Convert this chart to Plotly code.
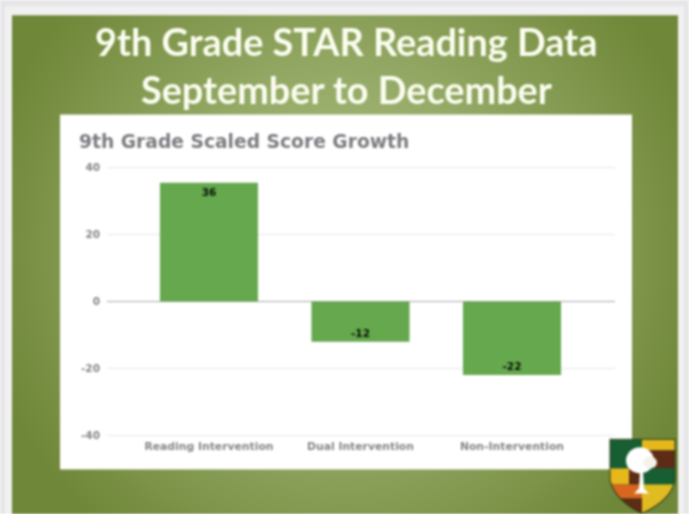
import base64
import plotly.graph_objects as go

categories = ["Reading Intervention", "Dual Intervention", "Non-Intervention"]
growth = [35.5, -12, -22]
y_ticks = [-40, -20, 0, 20, 40]
y_tick_labels = ["-40", "-20", "0", "20", "40"]

W, H = 689, 514
L, R, T, B = 107, 615, 166.33, 436.67


def px(x):
    return (x - L) / (R - L)


def py(y):
    return (B - y) / (B - T)


def uri(svg):
    return "data:image/svg+xml;base64," + base64.b64encode(svg.encode()).decode()


backdrop = f"""<svg xmlns="http://www.w3.org/2000/svg" width="{W}" height="{H}" viewBox="0 0 {W} {H}">
<defs><radialGradient id="g" gradientUnits="userSpaceOnUse" cx="345" cy="250" r="370">
<stop offset="0" stop-color="#b3c488"/><stop offset="0.45" stop-color="#96ab68"/><stop offset="1" stop-color="#6f8738"/>
</radialGradient></defs>
<rect x="0" y="0" width="{W}" height="{H}" fill="#e6e6e8"/>
<rect x="5" y="7" width="679" height="507" fill="#f1f1f2"/>
<rect x="12" y="16" width="666" height="498" fill="url(#g)"/>
<rect x="60" y="115" width="572" height="354" fill="#ffffff"/>
</svg>"""

crest = """<svg xmlns="http://www.w3.org/2000/svg" width="68" height="76" viewBox="0 0 68 76">
<defs><clipPath id="c"><path d="M1 1H66V42Q62 62 33 75Q6 62 1 42Z"/></clipPath></defs>
<g clip-path="url(#c)">
<rect width="68" height="76" fill="#175f33"/>
<rect x="33" y="0" width="35" height="12" fill="#e6b81c"/>
<rect x="33" y="12" width="35" height="18" fill="#5e2b14"/>
<rect x="33" y="30" width="35" height="16" fill="#175f33"/>
<rect x="0" y="30" width="20" height="16" fill="#e6b81c"/>
<rect x="20" y="30" width="14" height="16" fill="#5e2b14"/>
<rect x="33" y="46" width="35" height="30" fill="#e0bb22"/>
<rect x="0" y="46" width="33" height="14" fill="#d9661e"/>
<rect x="0" y="60" width="33" height="16" fill="#5e2b14"/>
</g>
<path d="M1 1H66V42Q62 62 33 75Q6 62 1 42Z" fill="none" stroke="#2c3a18" stroke-width="1"/>
<ellipse cx="31" cy="22" rx="14" ry="13" fill="#ffffff"/>
<ellipse cx="41" cy="24" rx="7" ry="6" fill="#f3f3ea"/>
<path d="M31 32H34L35 50L40 55H25L30 50Z" fill="#ffffff"/>
</svg>"""

fig = go.Figure(
    go.Bar(
        x=categories,
        y=growth,
        width=0.647,
        marker=dict(color="#65a84d", line=dict(width=0)),
        texttemplate="%{y:.0f}",
        textposition="inside",
        insidetextanchor="end",
        textangle=0,
        textfont=dict(family="DejaVu Sans", size=10.5, color="#061004", weight="bold"),
        hoverinfo="skip",
    )
)

fig.update_layout(
    width=W,
    height=H,
    autosize=False,
    margin=dict(l=L, r=W - R, t=T, b=H - B, pad=0),
    paper_bgcolor="#e6e6e8",
    plot_bgcolor="rgba(0,0,0,0)",
    showlegend=False,
    font=dict(family="DejaVu Sans", color="#8a8a8a"),
    xaxis=dict(
        range=[-0.673, 2.68],
        showgrid=False,
        showline=False,
        zeroline=False,
        ticks="",
        tickfont=dict(family="DejaVu Sans", size=10.8, color="#85858a", weight="bold"),
        ticklabelstandoff=1,
        automargin=False,
    ),
    yaxis=dict(
        range=[-40.5, 40.5],
        tickvals=y_ticks,
        ticktext=y_tick_labels,
        showgrid=True,
        gridcolor="#e8e8e8",
        gridwidth=1,
        zeroline=True,
        zerolinecolor="#a8a8a8",
        zerolinewidth=1,
        ticks="",
        tickfont=dict(family="DejaVu Sans", size=10.5, color="#85858a", weight="bold"),
        ticklabelstandoff=6,
        automargin=False,
    ),
    images=[
        dict(source=uri(backdrop), xref="paper", yref="paper", x=px(0), y=py(0),
             sizex=W / (R - L), sizey=H / (B - T), xanchor="left", yanchor="top",
             sizing="stretch", layer="below"),
        dict(source=uri(crest), xref="paper", yref="paper", x=px(609), y=py(438),
             sizex=68 / (R - L), sizey=76 / (B - T), xanchor="left", yanchor="top",
             sizing="stretch", layer="above"),
    ],
    annotations=[
        dict(text="9th Grade STAR Reading Data", xref="paper", yref="paper", x=px(346), y=py(42),
             xanchor="center", yanchor="middle", showarrow=False,
             font=dict(family="Lato", size=37.8, color="#fbfdf0", weight="bold")),
        dict(text="September to December", xref="paper", yref="paper", x=px(346), y=py(90),
             xanchor="center", yanchor="middle", showarrow=False,
             font=dict(family="Lato", size=37.8, color="#fbfdf0", weight="bold")),
        dict(text="9th Grade Scaled Score Growth", xref="paper", yref="paper", x=px(77), y=py(142),
             xanchor="left", yanchor="middle", showarrow=False,
             font=dict(family="DejaVu Sans", size=18.7, color="#7c7c81", weight="bold")),
    ],
)

fig.write_html(
    "out.html",
    config={"displayModeBar": False},
    post_script="document.body.style.margin='0';document.getElementById('{plot_id}').style.filter='blur(0.8px)';",
)
